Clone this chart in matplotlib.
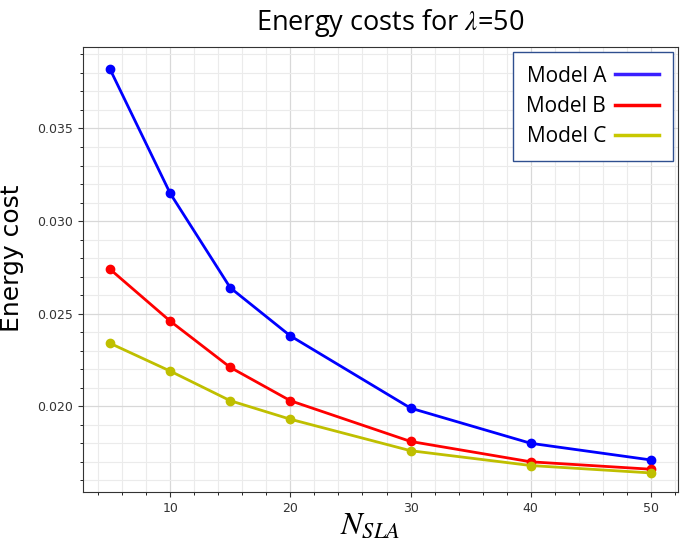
import matplotlib
matplotlib.use("Agg")
import matplotlib.pyplot as plt
from matplotlib.ticker import MultipleLocator

n_sla = [5, 10, 15, 20, 30, 40, 50]
model_a = [0.0382, 0.0315, 0.0264, 0.0238, 0.0199, 0.0180, 0.0171]
model_b = [0.0274, 0.0246, 0.0221, 0.0203, 0.0181, 0.0170, 0.0166]
model_c = [0.0234, 0.0219, 0.0203, 0.0193, 0.0176, 0.0168, 0.0164]

plt.rcParams['mathtext.fontset'] = 'stix'

fig = plt.figure(figsize=(6.81, 5.43), dpi=100)
ax = fig.add_axes([83 / 681, 1 - 492 / 543, (678 - 83) / 681, (492 - 47) / 543])

ax.plot(n_sla, model_a, color='#0000ff', lw=2, marker='o', ms=6)
ax.plot(n_sla, model_b, color='#ff0000', lw=2, marker='o', ms=6)
ax.plot(n_sla, model_c, color='#bfbf00', lw=2, marker='o', ms=6)

ax.set_ylim(0.01537, 0.0394)
ax.xaxis.set_major_locator(MultipleLocator(10))
ax.xaxis.set_minor_locator(MultipleLocator(2))
ax.yaxis.set_major_locator(MultipleLocator(0.005))
ax.yaxis.set_minor_locator(MultipleLocator(0.001))
ax.yaxis.set_major_formatter(plt.FormatStrFormatter('%.3f'))
ax.tick_params(labelsize=9, colors='#333333')
ax.grid(which='major', color='#d8d8d8', lw=0.9)
ax.grid(which='minor', color='#ebebeb', lw=0.8)
ax.set_axisbelow(True)
for s in ax.spines.values():
    s.set_color('#333333')

ax.set_ylabel('Energy cost', fontsize=18)
ax.yaxis.set_label_coords(-0.099, 0.526)
ax.set_xlabel('$N_{SLA}$', fontsize=23)
ax.xaxis.set_label_coords(0.482, -0.04)
fig.text(0.573, 0.958, 'Energy costs for $\\lambda$=50', fontsize=19.5,
         family='Open Sans', ha='center', va='center')

# legend as in the original: label first, line after it
h = [plt.Line2D([], [], color=c, lw=2.5) for c in ['#3a1fff', '#ff0000', '#c8c800']]
leg = ax.legend(h, ['Model A', 'Model B', 'Model C'], markerfirst=False,
                loc='upper right', prop={'family': 'Open Sans', 'size': 15},
                fancybox=False, framealpha=1, edgecolor='#2f4f8f',
                handlelength=2.1, handletextpad=0.45, borderpad=0.65,
                borderaxespad=0.25, labelspacing=0.45)
leg.get_frame().set_linewidth(1.0)

fig.savefig('out.png', dpi=100)
